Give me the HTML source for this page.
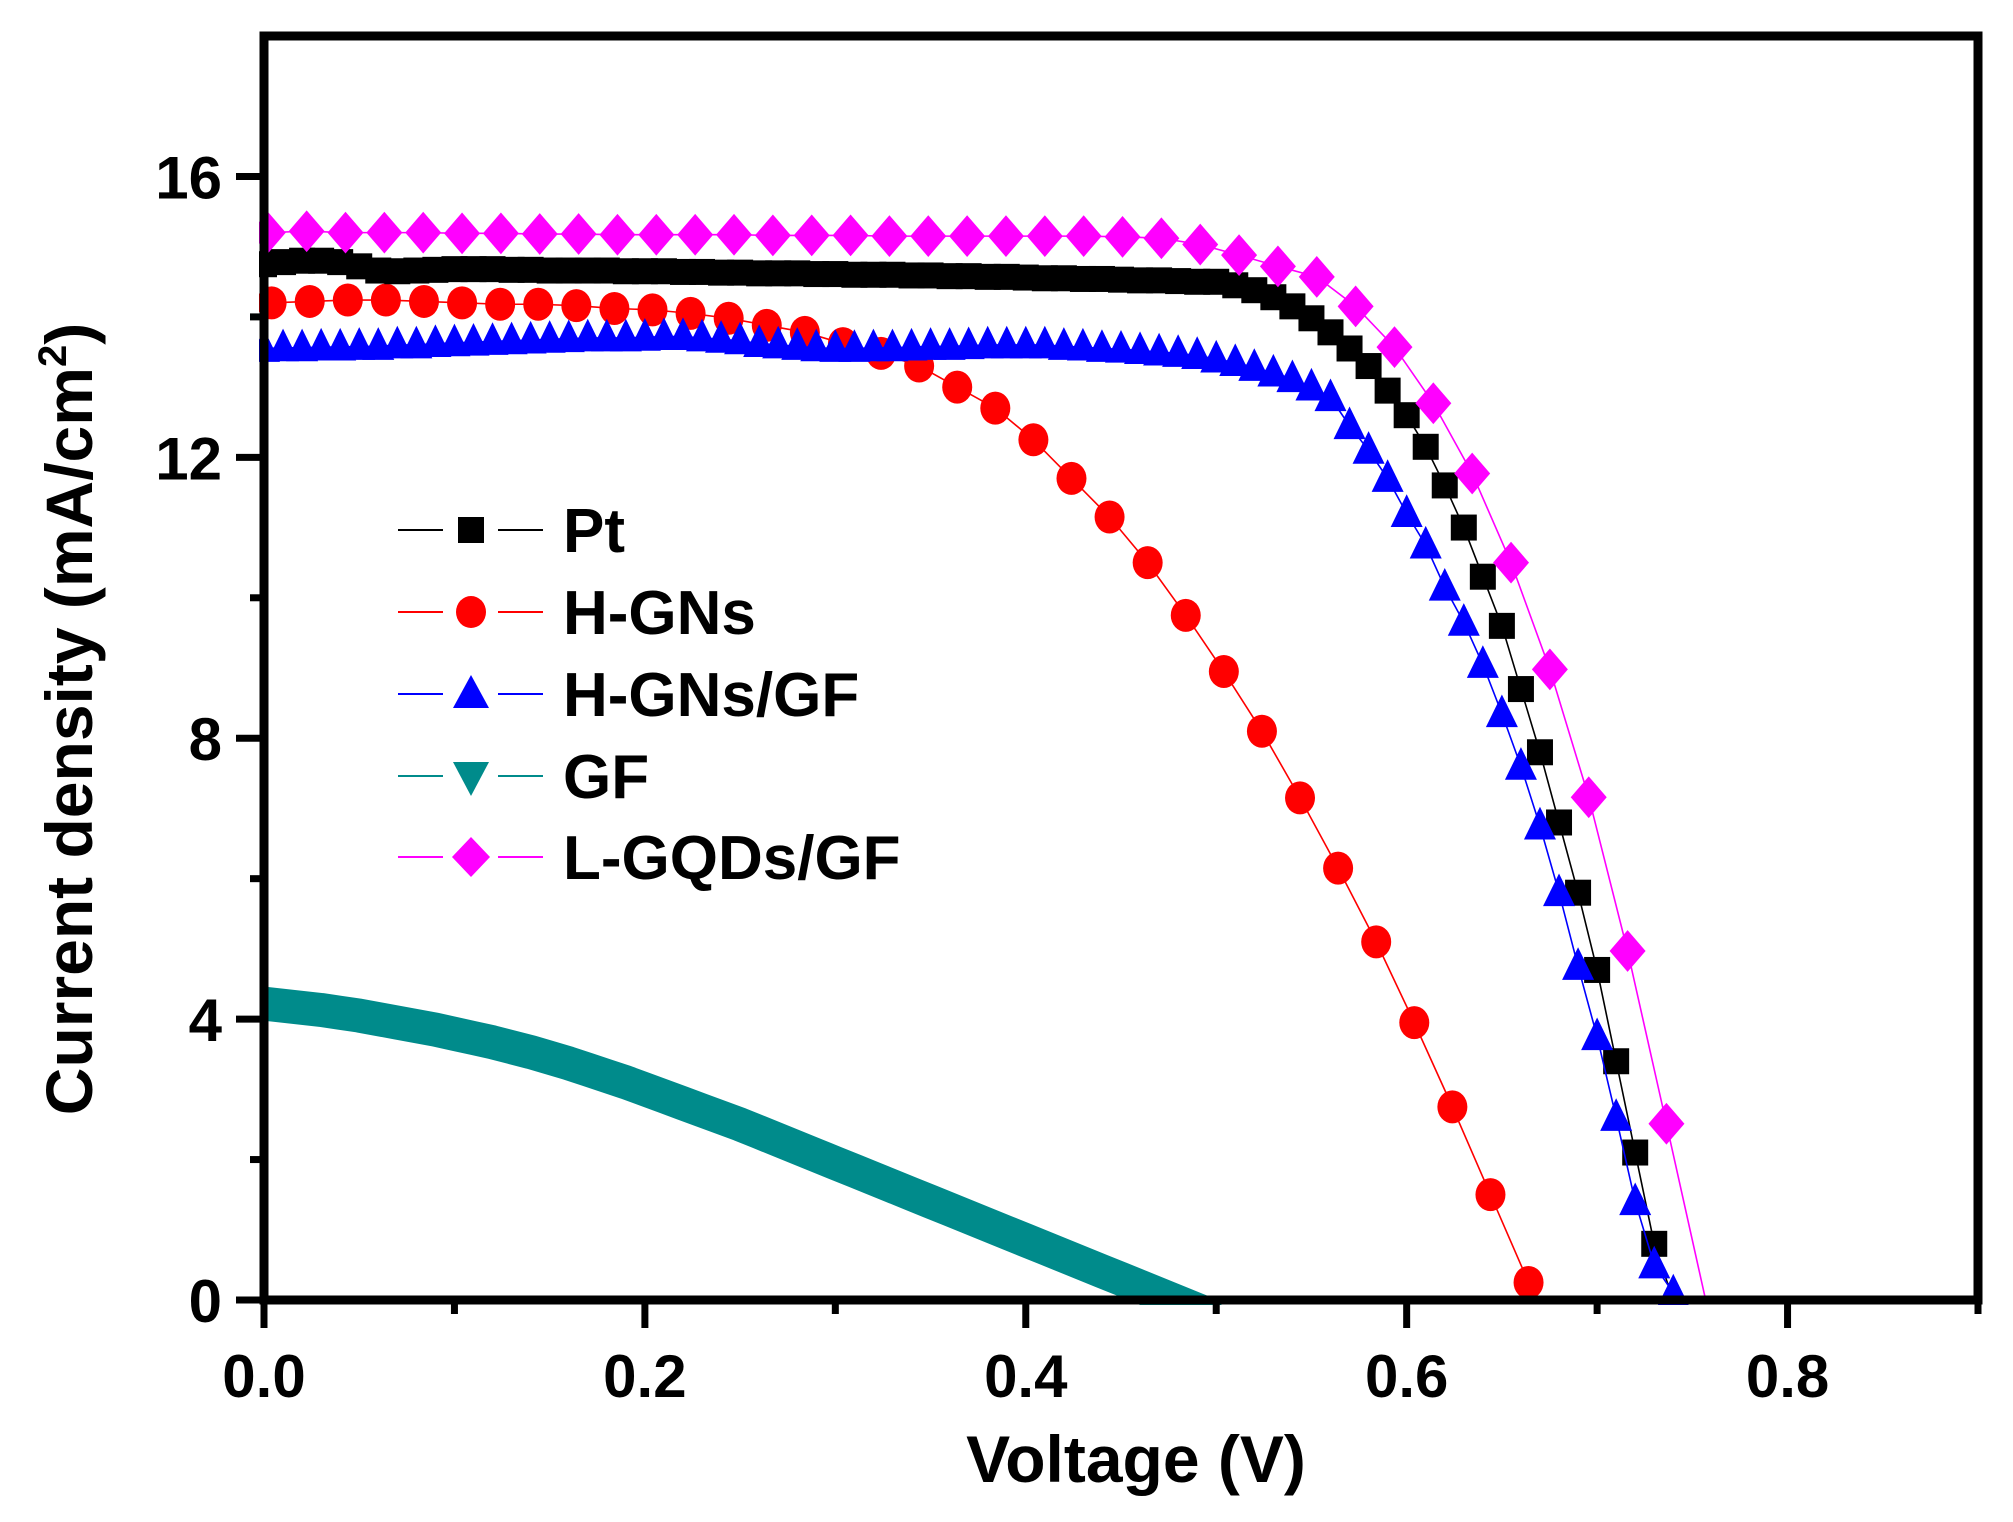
<!DOCTYPE html>
<html><head><meta charset="utf-8"><style>
html,body{margin:0;padding:0;background:#fff;width:2013px;height:1522px;overflow:hidden;position:relative;}
svg{display:block;font-family:"Liberation Sans",Arial,sans-serif;font-weight:bold;}
</style></head><body>
<svg id="chart" style="position:absolute;left:0;top:0" width="2013" height="1522" viewBox="0 0 2013 1522" xmlns="http://www.w3.org/2000/svg">
<g id="series"></g>
<g id="axes"></g>
</svg>
<script>
// ---- data ----
const xTicks = [0.0, 0.2, 0.4, 0.6, 0.8];
const xTickLabels = ["0.0", "0.2", "0.4", "0.6", "0.8"];
const yTicks = [0, 4, 8, 12, 16];
const yTickLabels = ["0", "4", "8", "12", "16"];

const ptV = [0,0.01,0.02,0.03,0.04,0.05,0.06,0.07,0.08,0.09,0.10,0.11,0.12,0.13,0.14,0.15,0.16,0.17,0.18,0.19,0.20,0.21,0.22,0.23,0.24,0.25,0.26,0.27,0.28,0.29,0.30,0.31,0.32,0.33,0.34,0.35,0.36,0.37,0.38,0.39,0.40,0.41,0.42,0.43,0.44,0.45,0.46,0.47,0.48,0.49,0.50,0.51,0.52,0.53,0.54,0.55,0.56,0.57,0.58,0.59,0.60,0.61,0.62,0.63,0.64,0.65,0.66,0.67,0.68,0.69,0.70,0.71,0.72,0.73];
const ptJ = [14.75,14.78,14.8,14.8,14.78,14.72,14.66,14.65,14.66,14.67,14.68,14.68,14.68,14.67,14.67,14.66,14.66,14.66,14.66,14.65,14.65,14.65,14.64,14.64,14.63,14.63,14.62,14.62,14.62,14.61,14.61,14.6,14.6,14.6,14.59,14.59,14.58,14.58,14.57,14.57,14.56,14.55,14.55,14.54,14.54,14.53,14.52,14.52,14.51,14.5,14.5,14.45,14.38,14.28,14.15,13.98,13.78,13.55,13.3,12.95,12.6,12.15,11.6,11.0,10.3,9.6,8.7,7.8,6.8,5.8,4.7,3.4,2.1,0.8];
const ptVoc = 0.74;

const hgV = [0.004,0.024,0.044,0.064,0.084,0.104,0.124,0.144,0.164,0.184,0.204,0.224,0.244,0.264,0.284,0.304,0.324,0.344,0.364,0.384,0.404,0.424,0.444,0.464,0.484,0.504,0.524,0.544,0.564,0.584,0.604,0.624,0.644,0.664];
const hgJ = [14.2,14.22,14.24,14.24,14.22,14.2,14.18,14.18,14.16,14.12,14.1,14.05,13.98,13.88,13.78,13.62,13.48,13.3,13.0,12.7,12.25,11.7,11.15,10.5,9.75,8.95,8.1,7.15,6.15,5.1,3.95,2.75,1.5,0.25];
const hgVoc = 0.668;

const hgfV = [0,0.01,0.02,0.03,0.04,0.05,0.06,0.07,0.08,0.09,0.10,0.11,0.12,0.13,0.14,0.15,0.16,0.17,0.18,0.19,0.20,0.21,0.22,0.23,0.24,0.25,0.26,0.27,0.28,0.29,0.30,0.31,0.32,0.33,0.34,0.35,0.36,0.37,0.38,0.39,0.40,0.41,0.42,0.43,0.44,0.45,0.46,0.47,0.48,0.49,0.50,0.51,0.52,0.53,0.54,0.55,0.56,0.57,0.58,0.59,0.60,0.61,0.62,0.63,0.64,0.65,0.66,0.67,0.68,0.69,0.70,0.71,0.72,0.73,0.74];
const hgfJ = [13.55,13.56,13.56,13.57,13.57,13.58,13.58,13.6,13.6,13.62,13.63,13.64,13.65,13.66,13.67,13.68,13.69,13.7,13.7,13.7,13.71,13.72,13.72,13.7,13.68,13.66,13.62,13.6,13.58,13.56,13.55,13.55,13.56,13.56,13.57,13.58,13.58,13.59,13.6,13.6,13.6,13.6,13.58,13.57,13.55,13.54,13.52,13.5,13.48,13.45,13.4,13.35,13.28,13.2,13.12,13.0,12.85,12.45,12.1,11.7,11.2,10.75,10.15,9.65,9.05,8.35,7.6,6.75,5.8,4.75,3.75,2.6,1.4,0.5,0.1];
const hgfVoc = 0.742;

const gfV = [0,0.01,0.02,0.03,0.04,0.05,0.06,0.07,0.08,0.09,0.10,0.11,0.12,0.13,0.14,0.15,0.16,0.17,0.18,0.19,0.20,0.21,0.22,0.23,0.24,0.25,0.26,0.27,0.28,0.29,0.30,0.31,0.32,0.33,0.34,0.35,0.36,0.37,0.38,0.39,0.40,0.41,0.42,0.43,0.44,0.45,0.46,0.47,0.48,0.49,0.50];
const gfJ = [4.22,4.19,4.16,4.13,4.09,4.05,4.0,3.95,3.9,3.85,3.79,3.73,3.67,3.6,3.53,3.45,3.37,3.28,3.19,3.1,3.0,2.9,2.8,2.7,2.6,2.5,2.39,2.28,2.17,2.06,1.95,1.84,1.73,1.62,1.51,1.4,1.29,1.18,1.07,0.96,0.85,0.74,0.63,0.52,0.41,0.3,0.19,0.08,-0.03,-0.14,-0.25];

const lgV = [0.002,0.0224,0.0428,0.0632,0.0836,0.104,0.1244,0.1448,0.1652,0.1856,0.206,0.2264,0.2468,0.2672,0.2876,0.308,0.3284,0.3488,0.3692,0.3896,0.41,0.4304,0.4508,0.4712,0.4916,0.512,0.5324,0.5528,0.5732,0.5936,0.614,0.6344,0.6548,0.6752,0.6956,0.716,0.7364];
const lgJ = [15.2,15.22,15.2,15.2,15.2,15.19,15.19,15.18,15.18,15.17,15.17,15.17,15.17,15.16,15.16,15.16,15.15,15.15,15.15,15.15,15.15,15.15,15.14,15.12,15.03,14.88,14.72,14.57,14.15,13.57,12.77,11.77,10.5,8.98,7.16,4.97,2.51];
const lgVoc = 0.757;

// ---- scales ----
const X0 = 264, X1 = 1978, Y0 = 1300, Y1 = 36;
const xMax = 0.9, yMax = 18;
function sx(v){ return X0 + v/xMax*(X1-X0); }
function sy(j){ return Y0 - j/yMax*(Y0-Y1); }

const NS = "http://www.w3.org/2000/svg";
function mk(tag, attrs, parent){
  const e = document.createElementNS(NS, tag);
  for (const k in attrs) e.setAttribute(k, attrs[k]);
  parent.appendChild(e);
  return e;
}
const gS = document.getElementById('series');
const gA = document.getElementById('axes');

function marker(type, cx, cy, color, parent, s){
  let e;
  if (type === 'square') {
    e = mk('rect', {x: cx-s/2, y: cy-s/2, width: s, height: s, fill: color}, parent);
  } else if (type === 'circle') {
    e = mk('ellipse', {cx: cx, cy: cy, rx: s/2, ry: s/2*1.1, fill: color}, parent);
  } else if (type === 'up') {
    e = mk('polygon', {points: `${cx},${cy-s*0.6} ${cx-s/2},${cy+s*0.42} ${cx+s/2},${cy+s*0.42}`, fill: color}, parent);
  } else if (type === 'down') {
    e = mk('polygon', {points: `${cx},${cy+s*0.6} ${cx-s/2},${cy-s*0.42} ${cx+s/2},${cy-s*0.42}`, fill: color}, parent);
  } else {
    e = mk('polygon', {points: `${cx},${cy-s*0.58} ${cx+s/2},${cy} ${cx},${cy+s*0.58} ${cx-s/2},${cy}`, fill: color}, parent);
  }
  return e;
}

function drawSeries(name, V, J, voc, color, type, size){
  const g = mk('g', {}, gS);
  
  
  let pts = V.map((v,i)=> sx(v)+','+sy(J[i]));
  if (voc !== null) pts.push(sx(voc)+','+sy(0));
  const line = mk('polyline', {points: pts.join(' '), fill: 'none', stroke: color, 'stroke-width': 1.6}, g);
  
  
  V.forEach((v,i)=>{
    const m = marker(type, sx(v), sy(J[i]), color, g, size);
    
    
  });
}

(function(){
  const g = mk('g', {}, gS);
  
  
  const pts = gfV.map((v,i)=> sx(v)+','+sy(gfJ[i])).join(' ');
  const band = mk('polyline', {points: pts, fill: 'none', stroke: '#008b8b', 'stroke-width': 34, 'stroke-linejoin': 'round'}, g);
  
  
})();
drawSeries('h-gns', hgV, hgJ, hgVoc, '#ff0000', 'circle', 30);
drawSeries('pt', ptV, ptJ, ptVoc, '#000000', 'square', 26);
drawSeries('h-gns-gf', hgfV, hgfJ, hgfVoc, '#0000ff', 'up', 32);
drawSeries('l-gqds-gf', lgV, lgJ, lgVoc, '#ff00ff', 'diamond', 36);

mk('rect', {x: 0, y: Y0+5, width: 2013, height: 60, fill: '#fff'}, gS);
mk('rect', {x: 0, y: 0, width: X0-5, height: 1500, fill: '#fff'}, gS);

// ---- axes ----
const frame = mk('rect', {x: X0, y: Y1, width: X1-X0, height: Y0-Y1, fill: 'none', stroke: '#000', 'stroke-width': 9}, gA);



xTicks.forEach((v,i)=>{
  const t = mk('line', {x1: sx(v), y1: Y0, x2: sx(v), y2: Y0+28, stroke: '#000', 'stroke-width': 7}, gA);
  
  
  const m = mk('line', {x1: sx(v+0.1), y1: Y0, x2: sx(v+0.1), y2: Y0+14, stroke: '#000', 'stroke-width': 7}, gA);
  
  
  const l = mk('text', {x: sx(v), y: Y0+97, 'font-size': 60, 'text-anchor': 'middle'}, gA);
  l.textContent = xTickLabels[i];
  
  
});
yTicks.forEach((j,i)=>{
  const t = mk('line', {x1: X0-28, y1: sy(j), x2: X0, y2: sy(j), stroke: '#000', 'stroke-width': 7}, gA);
  
  
  if (j+2 < yMax) {
    const m = mk('line', {x1: X0-14, y1: sy(j+2), x2: X0, y2: sy(j+2), stroke: '#000', 'stroke-width': 7}, gA);
    
    
  }
  const l = mk('text', {x: X0-42, y: sy(j)+22, 'font-size': 60, 'text-anchor': 'end'}, gA);
  l.textContent = yTickLabels[i];
  
  
});
</script>
<svg style="position:absolute;left:0;top:0" width="2013" height="1522" viewBox="0 0 2013 1522" xmlns="http://www.w3.org/2000/svg">
<text x="1136" y="1482" font-size="66" text-anchor="middle" font-family="Liberation Sans, Arial, sans-serif" font-weight="bold">Voltage (V)</text>
<text transform="translate(92,719) rotate(-90)" font-size="66" text-anchor="middle" font-family="Liberation Sans, Arial, sans-serif" font-weight="bold">Current density (mA/cm<tspan font-size="40" dy="-26">2</tspan><tspan dy="26">)</tspan></text>
<g font-family="Liberation Sans, Arial, sans-serif" font-weight="bold" font-size="62">
  <g>
    <line x1="398" y1="530" x2="443" y2="530" stroke="#000" stroke-width="2"/><line x1="498" y1="530" x2="543" y2="530" stroke="#000" stroke-width="2"/>
    <rect x="458" y="517" width="26" height="26" fill="#000"/>
    <text x="563" y="552">Pt</text>
  </g>
  <g>
    <line x1="398" y1="612" x2="443" y2="612" stroke="#f00" stroke-width="2"/><line x1="498" y1="612" x2="543" y2="612" stroke="#f00" stroke-width="2"/>
    <ellipse cx="471" cy="612" rx="15" ry="16" fill="#f00"/>
    <text x="563" y="634">H-GNs</text>
  </g>
  <g>
    <line x1="398" y1="694" x2="443" y2="694" stroke="#00f" stroke-width="2"/><line x1="498" y1="694" x2="543" y2="694" stroke="#00f" stroke-width="2"/>
    <polygon points="471,675 453,708 489,708" fill="#00f"/>
    <text x="563" y="716">H-GNs/GF</text>
  </g>
  <g>
    <line x1="398" y1="776" x2="443" y2="776" stroke="#008b8b" stroke-width="2"/><line x1="498" y1="776" x2="543" y2="776" stroke="#008b8b" stroke-width="2"/>
    <polygon points="471,796 453,762 489,762" fill="#008b8b"/>
    <text x="563" y="798">GF</text>
  </g>
  <g>
    <line x1="398" y1="857" x2="443" y2="857" stroke="#f0f" stroke-width="2"/><line x1="498" y1="857" x2="543" y2="857" stroke="#f0f" stroke-width="2"/>
    <polygon points="471,837 490,857 471,877 452,857" fill="#f0f"/>
    <text x="563" y="879">L-GQDs/GF</text>
  </g>
</g>
</svg>
</body></html>
